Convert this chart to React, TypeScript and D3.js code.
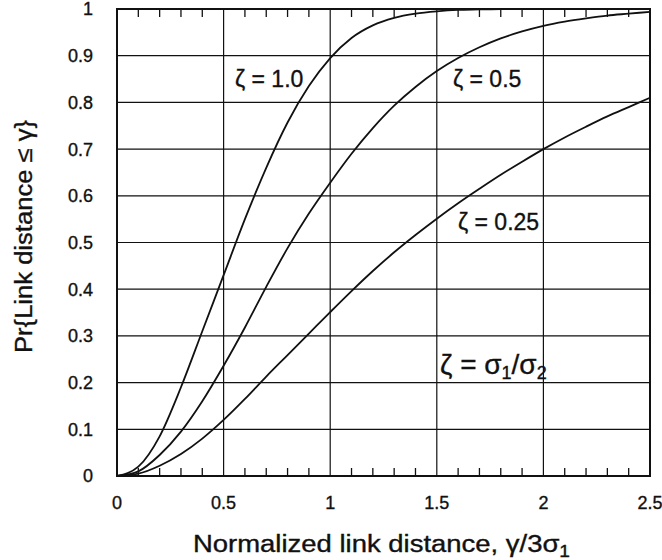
import React from 'react'
import * as d3 from 'd3'

// values
const xs = [0, 0.1, 0.2, 0.3, 0.4, 0.5, 0.6, 0.7, 0.8, 0.9, 1.0, 1.1, 1.2, 1.3, 1.4, 1.5, 1.6, 1.7, 1.8, 1.9, 2.0, 2.1, 2.2, 2.3, 2.4, 2.5]
const zeta100 = [0, 0.02, 0.085, 0.19, 0.31, 0.43, 0.55, 0.66, 0.757, 0.835, 0.895, 0.938, 0.965, 0.981, 0.99, 0.995, 0.998, 0.999, 1, 1, 1, 1, 1, 1, 1, 1]
const zeta050 = [0, 0.01, 0.045, 0.095, 0.16, 0.236, 0.318, 0.405, 0.488, 0.562, 0.628, 0.69, 0.745, 0.793, 0.833, 0.867, 0.895, 0.918, 0.937, 0.952, 0.964, 0.973, 0.98, 0.986, 0.99, 0.994]
const zeta025 = [0, 0.005, 0.022, 0.047, 0.08, 0.12, 0.165, 0.213, 0.259, 0.305, 0.351, 0.396, 0.439, 0.479, 0.516, 0.551, 0.584, 0.615, 0.645, 0.673, 0.7, 0.725, 0.748, 0.77, 0.79, 0.81]

const xTicks = [0, 0.5, 1, 1.5, 2, 2.5]
const xTickLabels = ['0', '0.5', '1', '1.5', '2', '2.5']
const xMinor = d3.range(1, 25).map((i) => i / 10)
const yTicks = [0, 0.1, 0.2, 0.3, 0.4, 0.5, 0.6, 0.7, 0.8, 0.9, 1]
const yTickLabels = ['0', '0.1', '0.2', '0.3', '0.4', '0.5', '0.6', '0.7', '0.8', '0.9', '1']

const FONT = "'Liberation Sans', Arial, Helvetica, sans-serif"
const INK = '#111'

const App: React.FC = () => {
  const width = 662
  const height = 560
  const left = 117, right = 650, top = 9, bottom = 476

  const x = d3.scaleLinear([0, 2.5], [left, right])
  const y = d3.scaleLinear([0, 1], [bottom, top])

  const line = d3.line<number>()
    .x((_, i) => x(xs[i]))
    .y((d) => y(d))
    .curve(d3.curveMonotoneX)

  const series = [zeta100, zeta050, zeta025]
  // a hair of stroke so the text reads as dark as the scanned original
  const txt = { fill: INK, stroke: INK, strokeWidth: 0.35 }

  return (
    <svg width={width} height={height} style={{ position: 'absolute', left: 0, top: 0, background: '#fff' }}
      fontFamily={FONT}>
      <rect x={0} y={0} width={width} height={height} fill="#fff" />

      {/* grid */}
      {xTicks.slice(1, -1).map((t) => (
        <line key={'gx' + t} x1={x(t)} x2={x(t)} y1={top} y2={bottom} stroke={INK} strokeWidth={1.2} />
      ))}
      {yTicks.slice(1, -1).map((t) => (
        <line key={'gy' + t} x1={left} x2={right} y1={y(t)} y2={y(t)} stroke={INK} strokeWidth={1.2} />
      ))}

      {/* minor ticks top and bottom */}
      {xMinor.filter((t) => Math.round(t * 10) % 5 !== 0).map((t) => (
        <g key={'mt' + t}>
          <line x1={x(t)} x2={x(t)} y1={bottom} y2={bottom - 8} stroke={INK} strokeWidth={1.3} />
          <line x1={x(t)} x2={x(t)} y1={top} y2={top + 8} stroke={INK} strokeWidth={1.3} />
        </g>
      ))}

      {/* curves */}
      {series.map((s, i) => (
        <path key={'s' + i} d={line(s) ?? ''} fill="none" stroke={INK} strokeWidth={1.8} />
      ))}

      {/* frame */}
      <rect x={left} y={top} width={right - left} height={bottom - top} fill="none" stroke={INK} strokeWidth={2} />

      {/* tick labels */}
      {xTicks.map((t, i) => (
        <text key={'xl' + t} x={x(t)} y={509} textAnchor="middle" fontSize={18} {...txt}>{xTickLabels[i]}</text>
      ))}
      {yTicks.map((t, i) => (
        <text key={'yl' + t} x={93} y={y(t)} dy="0.36em" textAnchor="end" fontSize={18} {...txt}>{yTickLabels[i]}</text>
      ))}

      {/* axis titles */}
      <text x={193} y={552} fontSize={23} textLength={377} lengthAdjust="spacingAndGlyphs" {...txt}>
        Normalized link distance, γ/3σ<tspan fontSize={16} dy={5}>1</tspan>
      </text>
      <text transform="translate(32,236.5) rotate(-90)" textAnchor="middle" fontSize={23}
        textLength={233} lengthAdjust="spacingAndGlyphs" {...txt}>
        Pr{'{'}Link distance ≤ γ{'}'}
      </text>

      {/* curve labels */}
      <text x={235} y={87} fontSize={23} {...txt}>ζ = 1.0</text>
      <text x={453} y={87} fontSize={23} {...txt}>ζ = 0.5</text>
      <text x={458} y={230} fontSize={23} {...txt}>ζ = 0.25</text>
      <text x={440} y={374} fontSize={28} {...txt}>
        ζ = σ<tspan fontSize={18} dy={5}>1</tspan><tspan dy={-5}>/σ</tspan><tspan fontSize={18} dy={5}>2</tspan>
      </text>
    </svg>
  )
}

export default App
